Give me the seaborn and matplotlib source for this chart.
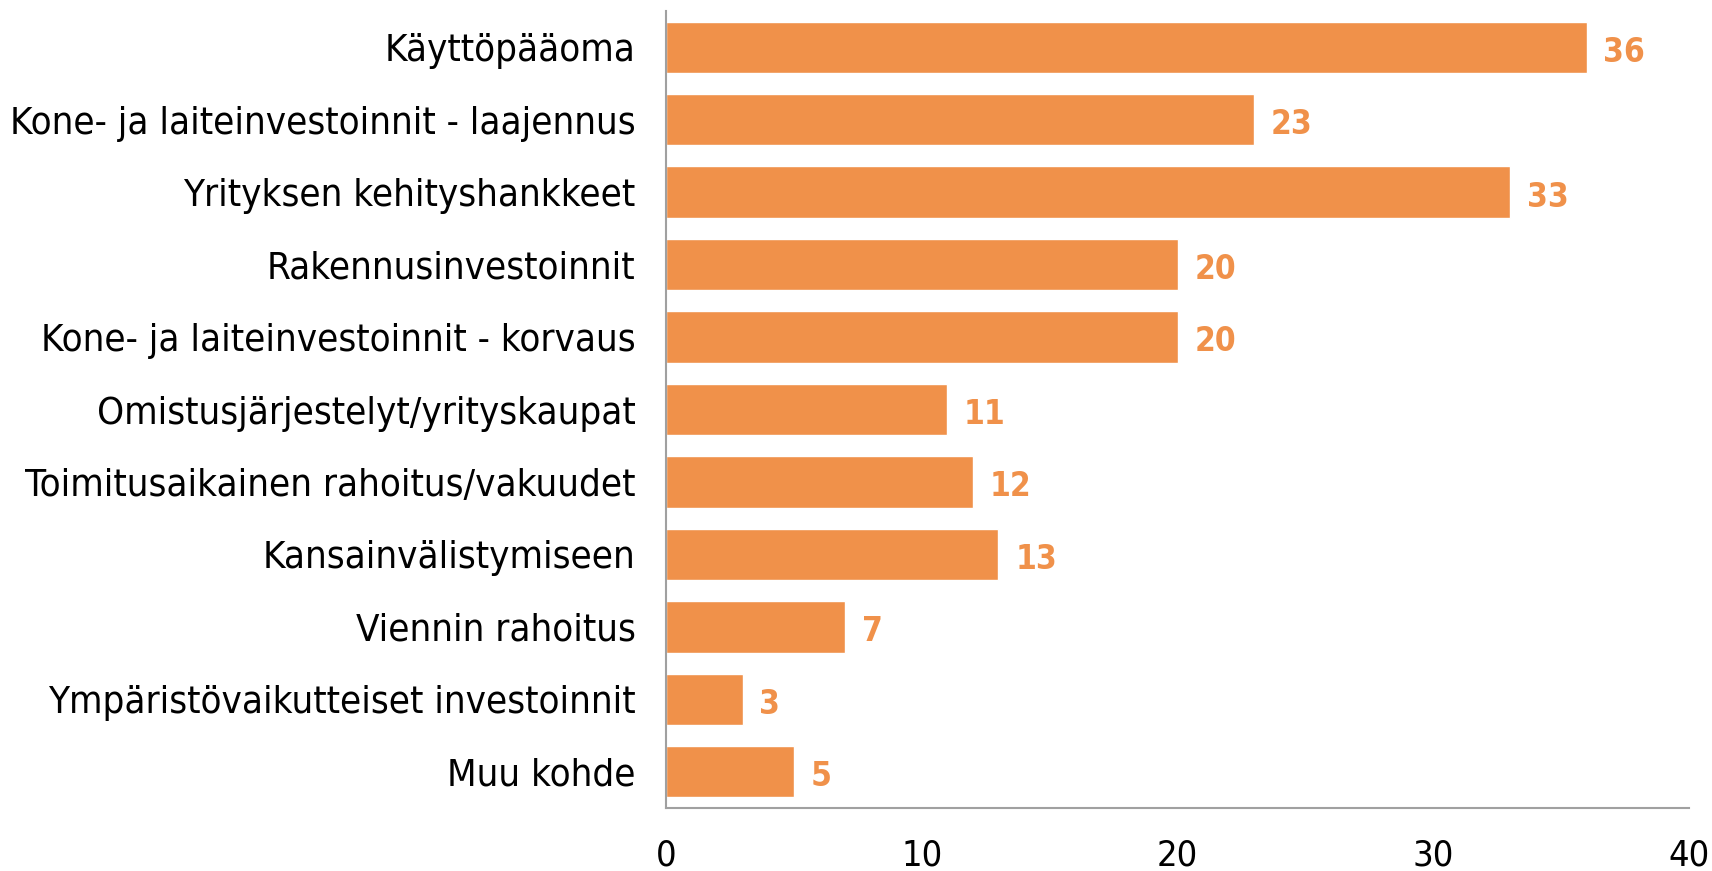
import numpy as np
import pandas as pd
import seaborn as sns
import matplotlib.pyplot as plt

# data
kohteet = ['Käyttöpääoma', 'Kone- ja laiteinvestoinnit - laajennus', 'Yrityksen kehityshankkeet',
           'Rakennusinvestoinnit', 'Kone- ja laiteinvestoinnit - korvaus',
           'Omistusjärjestelyt/yrityskaupat', 'Toimitusaikainen rahoitus/vakuudet',
           'Kansainvälistymiseen', 'Viennin rahoitus', 'Ympäristövaikutteiset investoinnit',
           'Muu kohde']
osuus = [36, 23, 33, 20, 20, 11, 12, 13, 7, 3, 5]
xticks = [0, 10, 20, 30, 40]

df = pd.DataFrame({'kohde': kohteet, 'osuus': osuus})

sns.set_style('white')
plt.rcParams['font.family'] = ['DejaVu Sans']
plt.rcParams['font.stretch'] = 'condensed'
orange = '#F0914A'

fig = plt.figure(figsize=(17.12, 8.71), dpi=100)
ax = fig.add_axes([666 / 1712, 1 - 808 / 871, (1689 - 666) / 1712, (808 - 11) / 871])
sns.barplot(data=df, y='kohde', x='osuus', color=orange, width=0.71, saturation=1, ax=ax)

# value labels at the bar ends
for i, v in enumerate(osuus):
    ax.annotate(str(v), (v, i), xytext=(12, -1), textcoords='offset points',
                va='center_baseline', ha='left', color=orange, fontsize=24, fontweight='bold')

ax.set_xlim(0, 40)
ax.set_ylim(10.5, -0.5)
ax.set_xticks(xticks)
ax.set_xlabel('')
ax.set_ylabel('')
ax.tick_params(axis='x', labelsize=26, pad=22, length=0, labelcolor='black')
ax.tick_params(axis='y', labelsize=27.5, pad=22, length=0, labelcolor='black')
for s in ['top', 'right']:
    ax.spines[s].set_visible(False)
for s in ['left', 'bottom']:
    ax.spines[s].set_color('#a0a0a0')
    ax.spines[s].set_linewidth(1.5)

plt.savefig('out.png', dpi=100)
